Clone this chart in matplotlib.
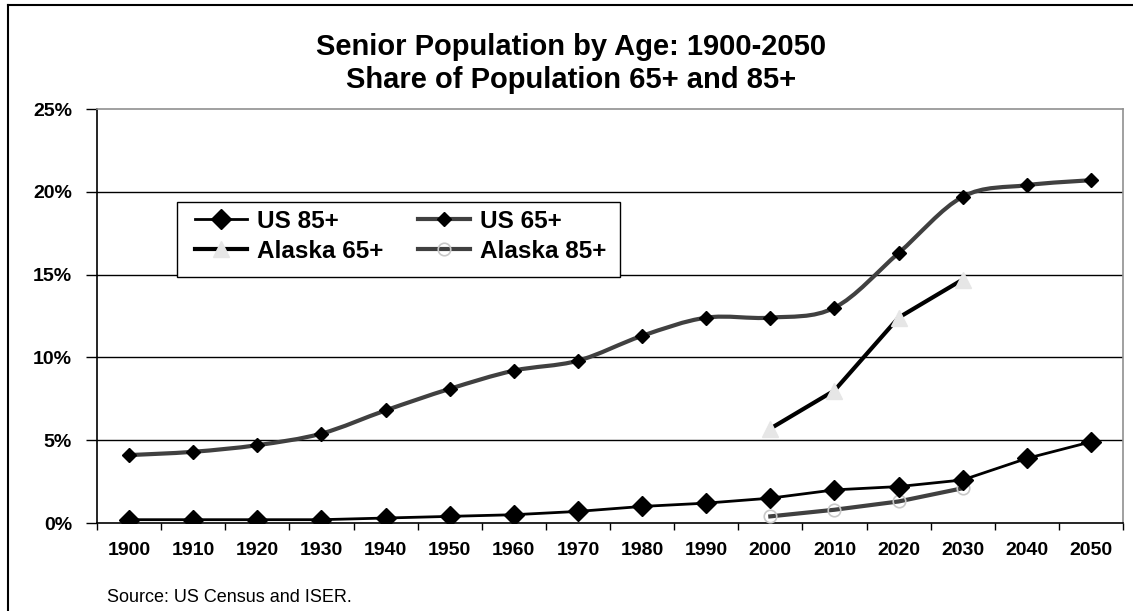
import matplotlib
matplotlib.use("Agg")
import matplotlib.pyplot as plt
import numpy as np
from matplotlib.path import Path
from matplotlib.patches import PathPatch, Rectangle
from matplotlib.lines import Line2D

# Data: share of population (%) by decade
years = ["1900", "1910", "1920", "1930", "1940", "1950", "1960", "1970",
         "1980", "1990", "2000", "2010", "2020", "2030", "2040", "2050"]
us_85 = [0.2, 0.2, 0.2, 0.2, 0.3, 0.4, 0.5, 0.7, 1.0, 1.2, 1.5, 2.0, 2.2, 2.6, 3.9, 4.9]
us_65 = [4.1, 4.3, 4.7, 5.4, 6.8, 8.1, 9.2, 9.8, 11.3, 12.4, 12.4, 13.0, 16.3, 19.7, 20.4, 20.7]
alaska_years = ["2000", "2010", "2020", "2030"]
alaska_65 = [5.7, 8.0, 12.4, 14.7]
alaska_85 = [0.4, 0.8, 1.3, 2.1]
y_ticks = [0, 5, 10, 15, 20, 25]

FONT = "Liberation Sans"
W, H = 1133, 611

fig = plt.figure(figsize=(W / 100, H / 100), dpi=100)
ax = fig.add_axes([97 / W, 1 - 523 / H, (1123 - 97) / W, (523 - 109) / H])

x_all = np.arange(len(years))
x_ak = np.array([years.index(y) for y in alaska_years])


def smooth_path(xs, ys):
    """Cubic Bezier path through the points (Catmull-Rom style control points)."""
    pts = np.column_stack([xs, ys]).astype(float)
    n = len(pts)
    verts = [pts[0]]
    codes = [Path.MOVETO]
    for i in range(n - 1):
        p0 = pts[i - 1] if i > 0 else pts[i]
        p1 = pts[i]
        p2 = pts[i + 1]
        p3 = pts[i + 2] if i + 2 < n else pts[i + 1]
        c1 = p1 + (p2 - p0) / 6.0
        c2 = p2 - (p3 - p1) / 6.0
        verts += [c1, c2, p2]
        codes += [Path.CURVE4] * 3
    return Path(verts, codes)


# Alaska 85+
ax.plot(x_ak, alaska_85, color="#404040", lw=3, marker="o", ms=9,
        mfc="none", mec="#c8c8c8", mew=1.2, zorder=3)
# US 85+
ax.plot(x_all, us_85, color="black", lw=2, marker="D", ms=10.5,
        mfc="black", mec="black", zorder=4)
# Alaska 65+
ax.plot(x_ak, alaska_65, color="black", lw=3, marker="^", ms=12,
        mfc="#e6e6e6", mec="#e6e6e6", zorder=4)
# US 65+ (smoothed line)
ax.add_patch(PathPatch(smooth_path(x_all, us_65), fill=False,
                       edgecolor="#404040", lw=3, zorder=4))
ax.plot(x_all, us_65, ls="none", marker="D", ms=7, mfc="black",
        mec="black", zorder=5)

ax.set_xlim(-0.5, len(years) - 0.5)
ax.set_ylim(0, 25)

# Gridlines
for v in y_ticks[1:-1]:
    ax.axhline(v, color="black", lw=1, zorder=1)

ax.set_yticks(y_ticks)
ax.set_yticklabels([f"{v}%" for v in y_ticks])
ax.set_xticks(x_all)
ax.set_xticklabels(years)
ax.set_xticks(np.arange(-0.5, len(years)), minor=True)
ax.tick_params(axis="x", which="major", length=0, pad=14)
ax.tick_params(axis="x", which="minor", length=5, width=1, direction="out")
ax.tick_params(axis="y", length=8, width=1, direction="out", pad=10)
for lab in ax.get_xticklabels() + ax.get_yticklabels():
    lab.set_fontfamily(FONT)
    lab.set_fontweight("bold")
    lab.set_fontsize(14)

for side in ("left", "bottom"):
    ax.spines[side].set_color("black")
    ax.spines[side].set_linewidth(1.2)
for side in ("top", "right"):
    ax.spines[side].set_color("#909090")
    ax.spines[side].set_linewidth(1.2)

# Legend box
fig.add_artist(Rectangle((177 / W, 1 - 277 / H), (620 - 177) / W, (277 - 202) / H,
                         transform=fig.transFigure, facecolor="white",
                         edgecolor="black", lw=1.0, zorder=5))

# Legend entries (row-major layout: US 85+, US 65+ / Alaska 65+, Alaska 85+)
h_us85 = Line2D([], [], color="black", lw=2, marker="D", ms=10.5, mfc="black", mec="black")
h_us65 = Line2D([], [], color="#404040", lw=3, marker="D", ms=7, mfc="black", mec="black")
h_ak65 = Line2D([], [], color="black", lw=3, marker="^", ms=12, mfc="#e6e6e6", mec="#e6e6e6")
h_ak85 = Line2D([], [], color="#404040", lw=3, marker="o", ms=9, mfc="none", mec="#c8c8c8", mew=1.2)
leg = fig.legend([h_us85, h_ak65, h_us65, h_ak85],
                 ["US 85+", "Alaska 65+", "US 65+", "Alaska 85+"],
                 ncol=2, loc="upper left",
                 bbox_to_anchor=(195 / W, 1 - 210 / H),
                 bbox_transform=fig.transFigure,
                 frameon=False, borderaxespad=0, borderpad=0,
                 handlelength=2.14, handletextpad=0.41, columnspacing=1.44,
                 labelspacing=0.28,
                 prop={"family": FONT, "weight": "bold", "size": 17.5})
leg.set_zorder(6)

# Title
fig.text(571 / W, 1 - 47 / H, "Senior Population by Age: 1900-2050",
         ha="center", va="center", fontfamily=FONT, fontweight="bold", fontsize=21)
fig.text(571 / W, 1 - 80 / H, "Share of Population 65+ and 85+",
         ha="center", va="center", fontfamily=FONT, fontweight="bold", fontsize=21)

# Source note
fig.text(107 / W, 1 - 602 / H, "Source: US Census and ISER.",
         ha="left", va="baseline", fontfamily=FONT, fontsize=13)

# Outer chart border
fig.add_artist(Line2D([7.5 / W, 1.0], [1 - 4.5 / H, 1 - 4.5 / H],
                      transform=fig.transFigure, color="black", lw=1.5))
fig.add_artist(Line2D([7.5 / W, 7.5 / W], [0.0, 1 - 4.5 / H],
                      transform=fig.transFigure, color="black", lw=1.5))

fig.savefig("out.png", dpi=100, facecolor="white")
